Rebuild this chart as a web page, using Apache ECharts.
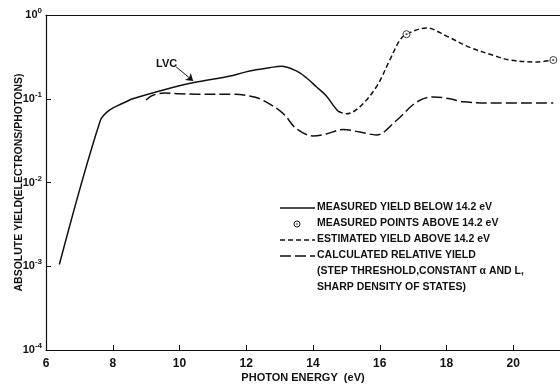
<!DOCTYPE html>
<html>
<head>
<meta charset="utf-8">
<script src="https://cdn.jsdelivr.net/npm/echarts@6/dist/echarts.min.js"></script>
<style>
  html, body { margin: 0; padding: 0; background: #fff; }
  #chart { width: 560px; height: 384px; }
</style>
</head>
<body>
<div id="chart"></div>
<script>
  // measured yield below 14.2 eV (solid)
  const measuredX = [6.4, 7.62, 7.9, 8.4, 8.6, 9.6, 10.4, 11.6, 12.1, 12.7, 13.05, 13.5, 13.8, 14.1, 14.4, 14.6, 14.75];
  const measuredY = [0.00105, 0.054, 0.073, 0.092, 0.1, 0.13, 0.155, 0.19, 0.215, 0.235, 0.245, 0.215, 0.178, 0.139, 0.108, 0.084, 0.071];

  // estimated yield above 14.2 eV (short dashes)
  const estimatedX = [14.75, 15.0, 15.4, 15.9, 16.3, 16.6, 16.8, 17.4, 18.0, 18.7, 19.4, 19.9, 20.7, 21.2];
  const estimatedY = [0.071, 0.066, 0.08, 0.139, 0.29, 0.5, 0.59, 0.7, 0.56, 0.41, 0.33, 0.29, 0.275, 0.29];

  // measured points above 14.2 eV (circled dots)
  const pointsX = [16.8, 21.2];
  const pointsY = [0.59, 0.29];

  // calculated relative yield (long dashes)
  const calcX = [9.0, 9.2, 9.56, 10.0, 10.6, 11.6, 12.1, 12.5, 13.1, 13.5, 14.0, 14.4, 14.9, 15.4, 15.9, 16.5, 17.1, 17.6, 18.1, 18.5, 19.5, 21.2];
  const calcY = [0.097, 0.11, 0.117, 0.115, 0.113, 0.113, 0.108, 0.096, 0.067, 0.044, 0.036, 0.038, 0.043, 0.04, 0.037, 0.055, 0.091, 0.105, 0.1, 0.092, 0.089, 0.089];

  // LVC arrow (data coords: tail, head)
  const lvcArrow = [[9.9, 0.24], [10.41, 0.163]];

  const yTickExp = { 1: '0', 0.1: '-1', 0.01: '-2', 0.001: '-3', 0.0001: '-4' };

  const ink = '#111';
  const font = "'Liberation Sans Narrow', 'Liberation Sans', Arial, sans-serif";

  const zip = (xs, ys) => xs.map((x, i) => [x, ys[i]]);

  const chart = echarts.init(document.getElementById('chart'));

  const legendRows = [208, 224, 240, 256, 272, 288];
  const legendTexts = [
    'MEASURED YIELD BELOW 14.2 eV',
    'MEASURED POINTS ABOVE 14.2 eV',
    'ESTIMATED YIELD ABOVE 14.2 eV',
    'CALCULATED RELATIVE YIELD',
    '(STEP THRESHOLD,CONSTANT \u03b1 AND L,',
    'SHARP DENSITY OF STATES)'
  ];

  const graphics = legendTexts.map((t, i) => ({
    type: 'text',
    left: 317,
    top: legendRows[i] - 6,
    style: { text: t, font: 'bold 10.5px ' + font, fill: ink }
  }));
  graphics.push(
    { type: 'line', shape: { x1: 280, y1: 208, x2: 315, y2: 208 }, style: { stroke: ink, lineWidth: 1.5 } },
    { type: 'circle', shape: { cx: 297, cy: 224, r: 3 }, style: { stroke: ink, fill: '#fff', lineWidth: 1 } },
    { type: 'circle', shape: { cx: 297, cy: 224, r: 0.8 }, style: { fill: ink } },
    { type: 'line', shape: { x1: 280, y1: 240, x2: 315, y2: 240 }, style: { stroke: ink, lineWidth: 1.5, lineDash: [5, 3] } },
    { type: 'line', shape: { x1: 280, y1: 256, x2: 315, y2: 256 }, style: { stroke: ink, lineWidth: 1.5, lineDash: [11, 4] } },
    { type: 'text', left: 156, top: 58, style: { text: 'LVC', font: 'bold 11px ' + font, fill: ink } }
  );

  const option = {
    animation: false,
    backgroundColor: '#fff',
    grid: { left: 46, right: 0, top: 15, bottom: 34, outerBoundsMode: 'none', containLabel: false },
    xAxis: [
      {
        type: 'value',
        min: 6,
        max: 21.4,
        interval: 2,
        name: 'PHOTON ENERGY  (eV)',
        nameLocation: 'middle',
        nameGap: 22,
        nameMoveOverlap: false,
        nameTextStyle: { color: ink, fontFamily: font, fontWeight: 'bold', fontSize: 11 },
        axisLine: { lineStyle: { color: ink, width: 1.2 } },
        axisTick: { inside: true, length: 5, lineStyle: { color: ink } },
        axisLabel: { color: ink, fontFamily: font, fontWeight: 'bold', fontSize: 12, margin: 8, showMaxLabel: false },
        splitLine: { show: false }
      },
      {
        type: 'value',
        position: 'top',
        min: 6,
        max: 21.4,
        axisLine: { show: true, lineStyle: { color: ink, width: 1.2 } },
        axisTick: { show: false },
        axisLabel: { show: false },
        splitLine: { show: false }
      }
    ],
    yAxis: {
      type: 'log',
      logBase: 10,
      min: 0.0001,
      max: 1,
      name: 'ABSOLUTE YIELD(ELECTRONS/PHOTONS)',
      nameLocation: 'middle',
      nameRotate: 90,
      nameGap: 21,
      nameMoveOverlap: false,
      nameTextStyle: { color: ink, fontFamily: font, fontWeight: 'bold', fontSize: 10.5 },
      axisLine: { show: true, lineStyle: { color: ink, width: 1.2 } },
      axisTick: { show: true, inside: true, length: 5, lineStyle: { color: ink } },
      axisLabel: {
        margin: 4,
        formatter: v => {
          const key = Object.keys(yTickExp).find(k => Math.abs(Math.log10(+k) - Math.log10(v)) < 1e-6);
          return '{b|10}{s|' + (key ? yTickExp[key] : '') + '}';
        },
        rich: {
          b: { color: ink, fontFamily: font, fontSize: 11, fontWeight: 'bold' },
          s: { color: ink, fontFamily: font, fontSize: 8, fontWeight: 'bold', verticalAlign: 'top', padding: [0, 0, 8, 0] }
        }
      },
      splitLine: { show: false }
    },
    graphic: graphics,
    series: [
      {
        name: 'measured',
        type: 'line',
        data: zip(measuredX, measuredY),
        smooth: 0.35,
        symbol: 'none',
        lineStyle: { color: ink, width: 1.5 },
        markLine: {
          silent: true,
          symbol: ['none', 'arrow'],
          symbolSize: 7,
          label: { show: false },
          lineStyle: { color: ink, width: 1, type: 'solid' },
          data: [[{ coord: lvcArrow[0] }, { coord: lvcArrow[1] }]]
        }
      },
      {
        name: 'estimated',
        type: 'line',
        data: zip(estimatedX, estimatedY),
        smooth: 0.35,
        symbol: 'none',
        lineStyle: { color: ink, width: 1.5, type: [5, 3] }
      },
      {
        name: 'calculated',
        type: 'line',
        data: zip(calcX, calcY),
        smooth: 0.35,
        symbol: 'none',
        lineStyle: { color: ink, width: 1.5, type: [11, 4] }
      },
      {
        name: 'points',
        type: 'scatter',
        data: zip(pointsX, pointsY),
        symbol: 'circle',
        symbolSize: 7,
        itemStyle: { color: '#fff', borderColor: ink, borderWidth: 1 },
        z: 5
      },
      {
        name: 'pointsDot',
        type: 'scatter',
        data: zip(pointsX, pointsY),
        symbol: 'circle',
        symbolSize: 2,
        itemStyle: { color: ink },
        z: 6
      }
    ]
  };

  chart.setOption(option);
</script>
</body>
</html>
